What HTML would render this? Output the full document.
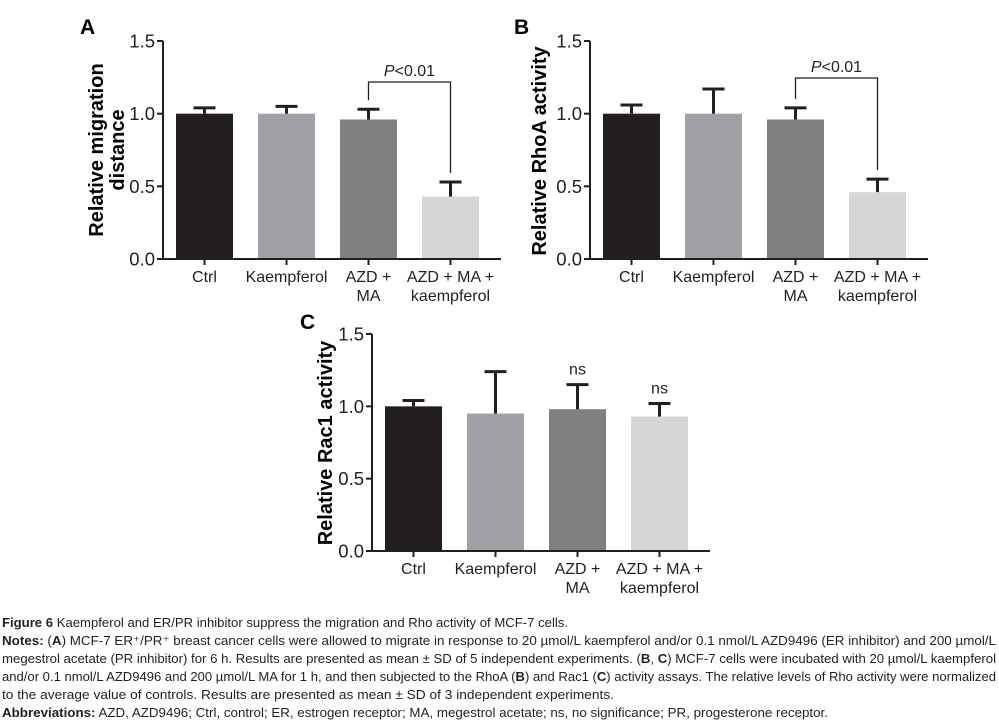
<!DOCTYPE html>
<html><head><meta charset="utf-8">
<style>
html,body{margin:0;padding:0;background:#fff;}
svg{display:block;font-family:"Liberation Sans",Arial,sans-serif;}
.cap{font-family:"Liberation Sans",sans-serif;font-size:12.5px;fill:#231f20;}
</style></head>
<body>
<svg id="fig" width="999" height="726" viewBox="0 0 999 726">
<g id="panels"></g>
<g>
<text class="cap" x="2" y="627" textLength="566" lengthAdjust="spacingAndGlyphs"><tspan font-weight="bold">Figure 6</tspan> Kaempferol and ER/PR inhibitor suppress the migration and Rho activity of MCF-7 cells.</text>
<text class="cap" x="2" y="645" textLength="994" lengthAdjust="spacingAndGlyphs"><tspan font-weight="bold">Notes:</tspan> (<tspan font-weight="bold">A</tspan>) MCF-7 ER⁺/PR⁺ breast cancer cells were allowed to migrate in response to 20 µmol/L kaempferol and/or 0.1 nmol/L AZD9496 (ER inhibitor) and 200 µmol/L</text>
<text class="cap" x="2" y="663" textLength="994" lengthAdjust="spacingAndGlyphs">megestrol acetate (PR inhibitor) for 6 h. Results are presented as mean ± SD of 5 independent experiments. (<tspan font-weight="bold">B</tspan>, <tspan font-weight="bold">C</tspan>) MCF-7 cells were incubated with 20 µmol/L kaempferol</text>
<text class="cap" x="2" y="681" textLength="994" lengthAdjust="spacingAndGlyphs">and/or 0.1 nmol/L AZD9496 and 200 µmol/L MA for 1 h, and then subjected to the RhoA (<tspan font-weight="bold">B</tspan>) and Rac1 (<tspan font-weight="bold">C</tspan>) activity assays. The relative levels of Rho activity were normalized</text>
<text class="cap" x="2" y="699" textLength="612" lengthAdjust="spacingAndGlyphs">to the average value of controls. Results are presented as mean ± SD of 3 independent experiments.</text>
<text class="cap" x="2" y="717" textLength="826" lengthAdjust="spacingAndGlyphs"><tspan font-weight="bold">Abbreviations:</tspan> AZD, AZD9496; Ctrl, control; ER, estrogen receptor; MA, megestrol acetate; ns, no significance; PR, progesterone receptor.</text>
</g>
</svg>
<script>
const categories = [["Ctrl"],["Kaempferol"],["AZD +","MA"],["AZD + MA +","kaempferol"]];
const barColors = ["#231f20","#a0a1a5","#808080","#d6d6d6"];
const yTicks = [0, 0.5, 1.0, 1.5];
const yTickLabels = ["0.0","0.5","1.0","1.5"];
const valuesA = [1.0, 1.0, 0.96, 0.43];
const errorsA = [0.04, 0.05, 0.07, 0.10];
const valuesB = [1.0, 1.0, 0.96, 0.46];
const errorsB = [0.06, 0.17, 0.08, 0.09];
const valuesC = [1.0, 0.95, 0.98, 0.93];
const errorsC = [0.04, 0.29, 0.17, 0.09];

const NS = "http://www.w3.org/2000/svg";
const root = document.getElementById("panels");
function el(tag, attrs, parent, text){
  const e = document.createElementNS(NS, tag);
  for (const k in attrs) e.setAttribute(k, attrs[k]);
  if (text !== undefined) e.textContent = text;
  parent.appendChild(e);
  return e;
}
function panel(cfg){
  const g = el("g", {}, root);
  
  
  const y0 = cfg.y0, y15 = cfg.y15, ax = cfg.ax;
  const yScale = v => y0 - (y0 - y15) * v / 1.5;
  const step = 82, bw = 57;
  const xBar = i => ax + 13 + i * step;
  const L = el("text", {x: cfg.lx, y: cfg.ly, "font-size": 21, "font-weight": "bold", fill: "#000"}, g, cfg.letter);
  
  
  cfg.values.forEach((v, i) => {
    const x = xBar(i), yt = yScale(v), ye = yScale(v + cfg.errors[i]);
    const b = el("rect", {x: x, y: yt, width: bw, height: y0 - yt, fill: barColors[i]}, g);
    
    
    const eb = el("path", {d: `M${x+bw/2},${yt} V${ye} M${x+bw/2-11},${ye} H${x+bw/2+11}`, stroke: "#231f20", "stroke-width": 3, fill: "none"}, g);
    
    
    categories[i].forEach((ln, j) => {
      const t = el("text", {x: x + bw/2, y: y0 + 23 + j * 19, "font-size": 16, "text-anchor": "middle", fill: "#231f20"}, g, ln);
      
      
    });
    el("line", {x1: x + bw/2, x2: x + bw/2, y1: y0, y2: y0 + 6, stroke: "#231f20", "stroke-width": 2}, g);
  });
  const axes = el("path", {d: `M${ax},${y15} V${y0} H${ax + 4 * step + 10}`, stroke: "#231f20", "stroke-width": 2, fill: "none"}, g);
  
  
  yTicks.forEach((t, i) => {
    const y = yScale(t);
    el("line", {x1: ax - 6, x2: ax, y1: y, y2: y, stroke: "#231f20", "stroke-width": 2}, g);
    const tl = el("text", {x: ax - 8, y: y + 6.5, "font-size": 18.5, "text-anchor": "end", fill: "#231f20"}, g, yTickLabels[i]);
    
    
  });
  const cy = cfg.cy;
  cfg.ytitle.forEach((ln, j) => {
    const tx = cfg.tx + j * 21;
    const t = el("text", {x: tx, y: cy, "font-size": 20, "font-weight": "bold", "text-anchor": "middle", fill: "#000", transform: `rotate(-90 ${tx} ${cy})`}, g, ln);
    
    
  });
  if (cfg.bracket) {
    const xl = xBar(2) + bw/2, xr = xBar(3) + bw/2;
    const yb = cfg.bracketY;
    const yl = yScale(cfg.values[2] + cfg.errors[2]) - 9;
    const yr = yScale(cfg.values[3] + cfg.errors[3]) - 9;
    const br = el("path", {d: `M${xl},${yl} V${yb} H${xr} V${yr}`, stroke: "#231f20", "stroke-width": 1.3, fill: "none"}, g);
    
    
    const pt = el("text", {x: (xl + xr) / 2, y: yb - 6, "font-size": 16, "text-anchor": "middle", fill: "#231f20"}, g);
    
    
    el("tspan", {"font-style": "italic"}, pt, "P");
    el("tspan", {}, pt, "<0.01");
  }
  if (cfg.ns) {
    [2, 3].forEach(i => {
      const x = xBar(i) + bw/2, ye = yScale(cfg.values[i] + cfg.errors[i]);
      const t = el("text", {x: x, y: ye - 10, "font-size": 16, "text-anchor": "middle", fill: "#231f20"}, g, "ns");
      
      
    });
  }
}
panel({letter: "A", lx: 80, ly: 34, ax: 163, y0: 259, y15: 41, values: valuesA, errors: errorsA,
  ytitle: ["Relative migration", "distance"], tx: 103, cy: 150, bracket: true, bracketY: 82});
panel({letter: "B", lx: 514, ly: 34, ax: 590, y0: 259, y15: 41, values: valuesB, errors: errorsB,
  ytitle: ["Relative RhoA activity"], tx: 546, cy: 151, bracket: true, bracketY: 78});
panel({letter: "C", lx: 300, ly: 329, ax: 372, y0: 551, y15: 334, values: valuesC, errors: errorsC,
  ytitle: ["Relative Rac1 activity"], tx: 332, cy: 443, ns: true});
</script>
</body></html>
